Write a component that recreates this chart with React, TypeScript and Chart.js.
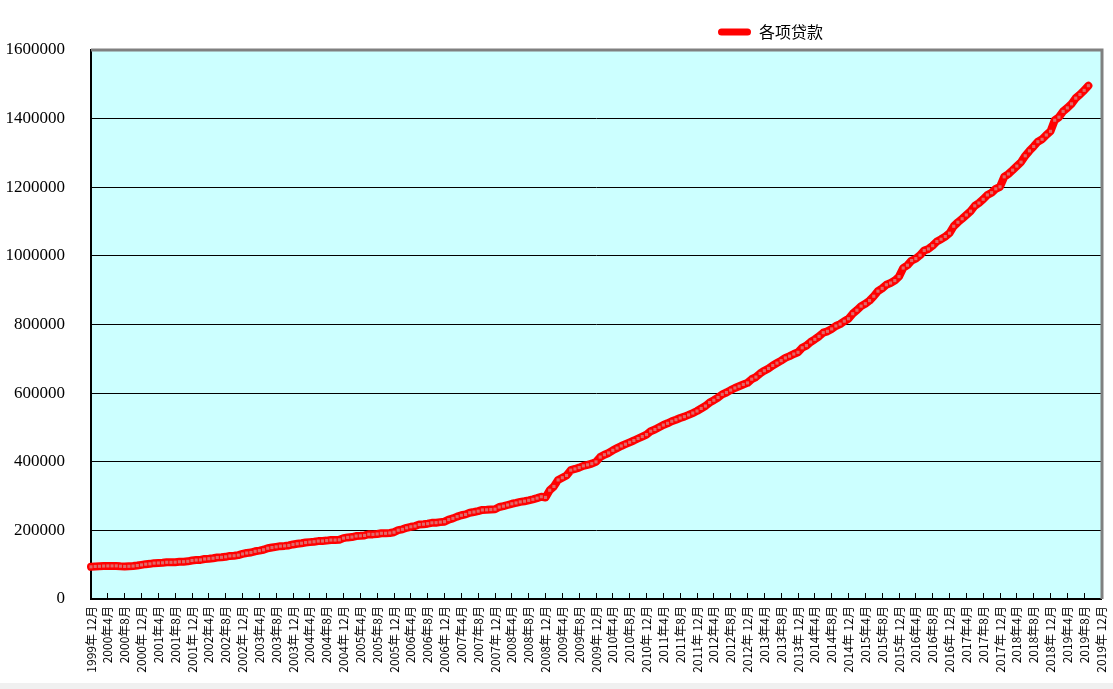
import React, { useEffect, useRef } from 'react';
import { Chart, registerables } from 'chart.js';

Chart.register(...registerables);

// Category axis: monthly from 1999年12月 to 2019年12月
const FIRST_YEAR = 1999;
const FIRST_MONTH = 12;
const MONTH_COUNT = 241;
const months: string[] = [];
{
  let y = FIRST_YEAR;
  let m = FIRST_MONTH;
  for (let k = 0; k < MONTH_COUNT; k++) {
    months.push(m === 12 ? `${y}年 12月` : `${y}年${m}月`);
    m++;
    if (m > 12) { m = 1; y++; }
  }
}

const seriesName = '各项贷款';

// 各项贷款 (monthly balance), 1999-12 .. 2019-09
const loans: number[] = [
  93734,
  94800, 95300, 96000, 96300, 96400, 96500, 95500, 94800, 95300, 96000, 97500, 99371,
  101500, 102500, 104500, 105000, 105500, 107000, 106800, 107300, 108500, 108700, 109800, 112315,
  113500, 114000, 116500, 117500, 118800, 121000, 121500, 123000, 125500, 126000, 127800, 131294,
  134000, 135500, 139000, 141000, 143500, 148000, 150000, 152000, 154000, 154800, 156200, 158996,
  161000, 162500, 164500, 165800, 166900, 168800, 169000, 170200, 171800, 171800, 172500, 177363,
  179500, 180500, 183500, 184200, 185300, 188700, 188300, 189500, 191500, 191500, 192500, 194690,
  200500, 203000, 207500, 210500, 212500, 217000, 218000, 219500, 222000, 222500, 224000, 225347,
  231500, 235000, 240000, 244000, 246500, 251500, 253500, 256000, 259500, 259900, 260700, 261691,
  268000, 270500, 274000, 277500, 280000, 283000, 285000, 287500, 290500, 294000, 298000, 296000,
  317000, 328000, 347000, 353500, 360000, 375500, 379000, 383000, 388000, 391000, 394500, 399685,
  413600, 420600, 425700, 433400, 439800, 445900, 451200, 456700, 461900, 467800, 473400, 479196,
  489000, 494000, 500500, 507000, 512000, 518000, 522500, 527500, 531500, 536500, 542000, 547947,
  555300, 562400, 572500, 579300, 587200, 596400, 601800, 608800, 615000, 620100, 625300, 629910,
  640600, 646800, 657400, 665300, 672000, 680600, 687600, 694700, 702600, 707700, 713900, 718961,
  732100, 738500, 749000, 756700, 765400, 776200, 780100, 787100, 795700, 801200, 809700, 816770,
  831500, 841700, 853500, 860600, 869600, 882400, 897200, 905300, 915800, 920900, 928000, 939540,
  964600, 972700, 986400, 992000, 1001900, 1015700, 1020300, 1029800, 1042000, 1048500, 1056400, 1066040,
  1086300, 1098000, 1108200, 1119200, 1130300, 1145700, 1154000, 1164900, 1177600, 1184200, 1195400, 1201321,
  1230300, 1238700, 1249900, 1261700, 1273200, 1291600, 1306100, 1318900, 1332700, 1339700, 1352200, 1362967,
  1395300, 1404200, 1421100, 1431300, 1443100, 1459700, 1470300, 1482400, 1495900,
];

const Y_MIN = 0;
const Y_MAX = 1600000;
const Y_STEP = 200000;
const LABEL_EVERY = 4;

const CJK = '"Noto Sans CJK SC", "Noto Sans", sans-serif';

const plotBg = {
  id: 'plotBg',
  beforeDraw(chart: any) {
    const { ctx, chartArea: a } = chart;
    ctx.save();
    ctx.fillStyle = '#ffffff';
    ctx.fillRect(0, 0, chart.width, chart.height);
    ctx.fillStyle = '#CCFFFF';
    ctx.fillRect(a.left, a.top, a.right - a.left, a.bottom - a.top);
    ctx.restore();
  },
  afterDraw(chart: any) {
    const { ctx, chartArea: a } = chart;
    ctx.save();
    ctx.strokeStyle = '#808080';
    ctx.lineWidth = 3;
    ctx.beginPath();
    ctx.moveTo(a.left, a.top);
    ctx.lineTo(a.right + 1, a.top);
    ctx.lineTo(a.right + 1, a.bottom);
    ctx.stroke();
    ctx.restore();
  },
};

const legendShift = {
  id: 'legendShift',
  afterLayout(chart: any) {
    const lg = chart.legend;
    if (!lg || !lg.lineWidths) return;
    const lw = lg.lineWidths[0];
    lg.left = 708;
    lg.right = 718 + lw;
    lg.width = lg.right - lg.left;
  },
};

export default function App() {
  const ref = useRef<HTMLCanvasElement | null>(null);

  useEffect(() => {
    if (!ref.current) return;
    const chart = new Chart(ref.current, {
      type: 'line',
      data: {
        labels: months,
        datasets: [
          {
            label: seriesName,
            data: loans,
            borderColor: '#FF0000',
            backgroundColor: '#FF0000',
            borderWidth: 8,
            borderJoinStyle: 'round',
            borderCapStyle: 'round',
            tension: 0,
            pointStyle: 'rect',
            pointRadius: 2.2,
            pointBorderWidth: 0,
            pointBackgroundColor: '#e06868',
            pointBorderColor: '#e06868',
            fill: false,
          } as any,
        ],
      },
      options: {
        animation: false,
        responsive: false,
        layout: { padding: { left: 5, right: 12, top: 14, bottom: 0 } },
        plugins: {
          tooltip: { enabled: false },
          legend: {
            display: true,
            position: 'top',
            align: 'center',
            labels: {
              boxWidth: 33,
              boxHeight: 7,
              color: '#000',
              font: { family: CJK, size: 16 },
              padding: 10,
              useBorderRadius: true,
              borderRadius: 3.5,
              generateLabels: (c: any) => {
                const items = (Chart.defaults.plugins.legend.labels as any).generateLabels(c);
                items.forEach((it: any) => {
                  it.lineWidth = 0;
                  it.fillStyle = '#FF0000';
                  it.borderRadius = 3.5;
                });
                return items;
              },
            } as any,
          },
        },
        scales: {
          x: {
            type: 'category',
            offset: false,
            grid: {
              drawOnChartArea: false,
              drawTicks: true,
              tickLength: -6,
              lineWidth: 1,
              color: (ctx: any) => (ctx.index % LABEL_EVERY === 0 ? '#000' : 'rgba(0,0,0,0)'),
            },
            border: { color: '#000', width: 2 },
            ticks: {
              autoSkip: false,
              maxRotation: 90,
              minRotation: 90,
              padding: 13,
              color: '#000',
              font: { family: CJK, size: 12 },
              callback: (_v: any, i: number) => (i % LABEL_EVERY === 0 ? months[i] : ''),
            },
            afterFit: (s: any) => {
              s.height = 84;
              s.paddingLeft = 0;
              s.paddingRight = 0;
            },
          } as any,
          y: {
            min: Y_MIN,
            max: Y_MAX,
            grid: {
              drawTicks: false,
              lineWidth: 1,
              color: (ctx: any) => (ctx.tick && ctx.tick.value === Y_MAX ? 'rgba(0,0,0,0)' : '#000'),
            },
            border: { color: '#000', width: 2 },
            ticks: {
              stepSize: Y_STEP,
              padding: 26,
              color: '#000',
              font: { family: '"Liberation Serif", serif', size: 17 },
              callback: (v: any) => String(v),
            },
            afterFit: (s: any) => { s.width = 86; },
          } as any,
        },
      },
      plugins: [plotBg, legendShift],
    });
    return () => chart.destroy();
  }, []);

  return (
    <div style={{ position: 'fixed', left: 0, top: 0, width: 1113, height: 689, background: '#f0f0f0' }}>
      <div style={{ width: 1113, height: 683, background: '#fff' }}>
        <canvas ref={ref} width={1113} height={683} style={{ display: 'block' }} />
      </div>
    </div>
  );
}
